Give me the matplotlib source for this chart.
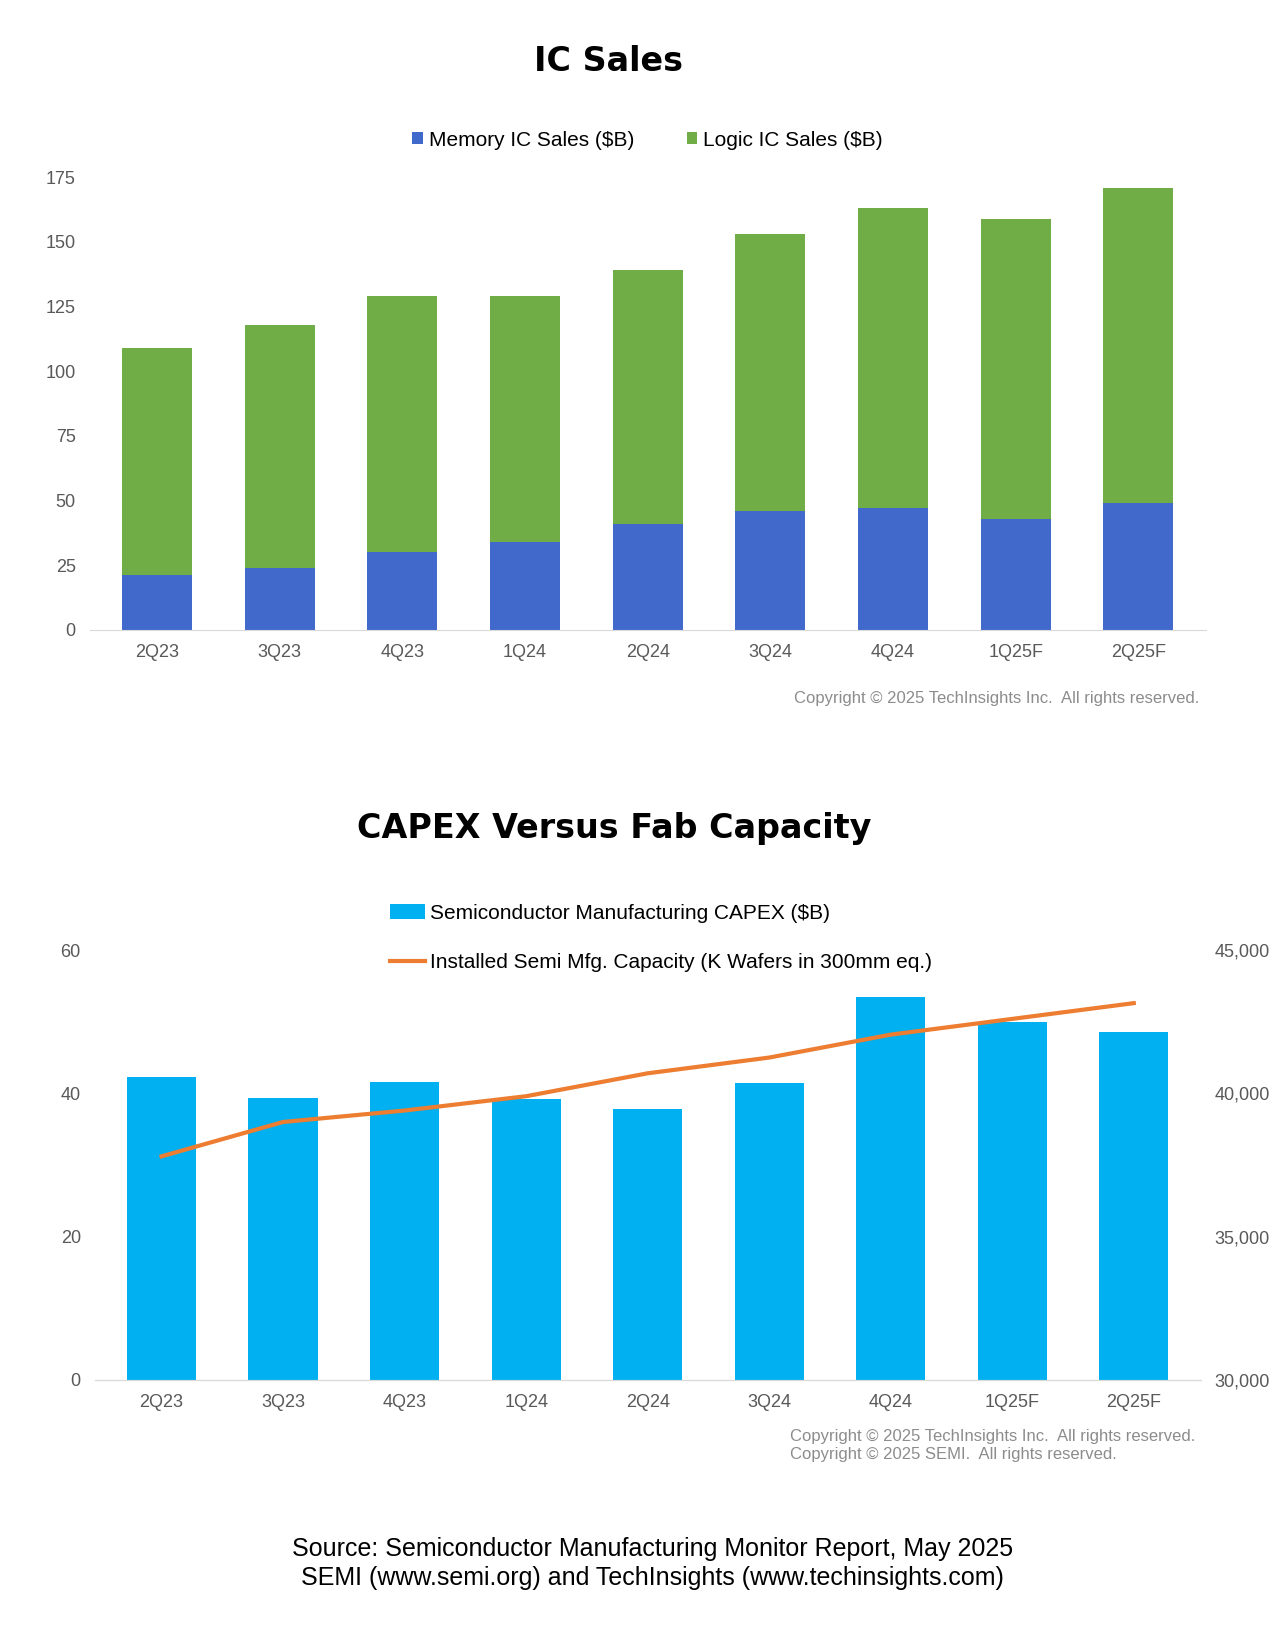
import numpy as np
import matplotlib.pyplot as plt

plt.rcParams["font.family"] = "Liberation Sans"

quarters = ["2Q23", "3Q23", "4Q23", "1Q24", "2Q24", "3Q24", "4Q24", "1Q25F", "2Q25F"]
memory = [21, 24, 30, 34, 41, 46, 47, 43, 49]
logic = [88, 94, 99, 95, 98, 107, 116, 116, 122]
capex = [42.3, 39.3, 41.6, 39.2, 37.8, 41.5, 53.5, 50.0, 48.5]
capacity = [37800, 39000, 39400, 39900, 40700, 41250, 42050, 42600, 43150]

grey = "#595959"
fig = plt.figure(figsize=(12.8, 16.27), dpi=100)
x = np.arange(len(quarters))

# --- IC Sales ---
ax1 = fig.add_axes([0.07, 0.613, 0.872, 0.278])
ax1.bar(x, memory, width=0.57, color="#4169CC", label="Memory IC Sales ($B)")
ax1.bar(x, logic, width=0.57, bottom=memory, color="#70AD47", label="Logic IC Sales ($B)")
ax1.set_ylim(0, 175)
ax1.set_yticks(range(0, 176, 25))
ax1.set_xlim(-0.55, 8.55)
ax1.set_xticks(x, quarters)
for s in ["top", "right", "left"]:
    ax1.spines[s].set_visible(False)
ax1.spines["bottom"].set_color("#d9d9d9")
ax1.tick_params(length=0, labelsize=13, colors=grey, pad=10)
ax1.legend(loc="lower center", bbox_to_anchor=(0.5, 1.02), ncol=2, frameon=False,
           fontsize=15, handlelength=0.5, handleheight=0.5, columnspacing=2.5, handletextpad=0.3)
fig.text(0.475, 0.962, "IC Sales", ha="center", va="center", fontsize=24,
         fontweight="bold", family="DejaVu Sans")
fig.text(0.62, 0.568, "Copyright \u00a9 2025 TechInsights Inc.  All rights reserved.",
         ha="left", fontsize=12, color="#8c8c8c")

# --- CAPEX Versus Fab Capacity ---
ax2 = fig.add_axes([0.074, 0.152, 0.864, 0.264])
ax2.bar(x, capex, width=0.57, color="#00B0F0", label="Semiconductor Manufacturing CAPEX ($B)")
ax2.set_ylim(0, 60)
ax2.set_yticks([0, 20, 40, 60])
ax2.set_xlim(-0.55, 8.55)
ax2.set_xticks(x, quarters)
ax3 = ax2.twinx()
ax3.plot(x, capacity, color="#ED7D31", lw=3, label="Installed Semi Mfg. Capacity (K Wafers in 300mm eq.)")
ax3.set_ylim(30000, 45000)
ax3.set_yticks([30000, 35000, 40000, 45000], ["30,000", "35,000", "40,000", "45,000"])
for a in (ax2, ax3):
    for s in ["top", "right", "left"]:
        a.spines[s].set_visible(False)
    a.spines["bottom"].set_color("#d9d9d9")
    a.tick_params(length=0, labelsize=13, colors=grey, pad=10)
ax2.legend(loc="lower left", bbox_to_anchor=(0.25, 1.02), frameon=False, fontsize=15,
           handlelength=1.7, handletextpad=0.2)
ax3.legend(loc="lower left", bbox_to_anchor=(0.25, 0.905), frameon=False, fontsize=15,
           handlelength=1.7, handletextpad=0.2)
fig.text(0.48, 0.491, "CAPEX Versus Fab Capacity", ha="center", va="center",
         fontsize=24, fontweight="bold", family="DejaVu Sans")
fig.text(0.617, 0.1035, "Copyright \u00a9 2025 TechInsights Inc.  All rights reserved.\n"
         "Copyright \u00a9 2025 SEMI.  All rights reserved.",
         ha="left", fontsize=12, color="#8c8c8c", linespacing=1.2)

fig.text(0.51, 0.039, "Source: Semiconductor Manufacturing Monitor Report, May 2025\n"
         "SEMI (www.semi.org) and TechInsights (www.techinsights.com)",
         ha="center", va="center", fontsize=18, linespacing=1.3)

fig.savefig("out.png", dpi=100, facecolor="white")
